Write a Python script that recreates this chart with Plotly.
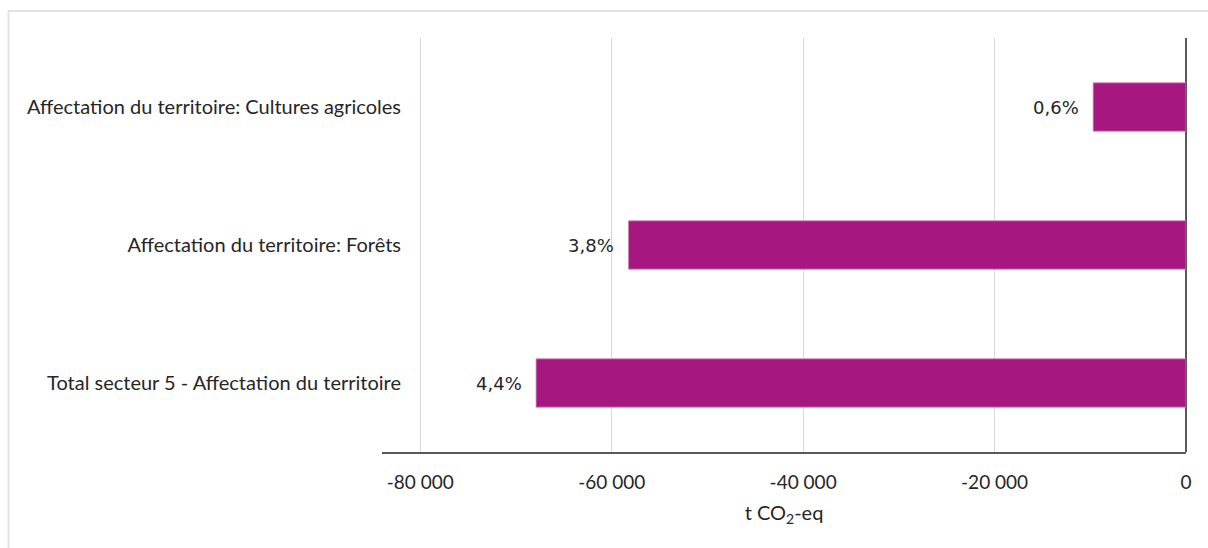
import plotly.graph_objects as go

categories = [
    "Affectation du territoire: Cultures agricoles",
    "Affectation du territoire: Forêts",
    "Total secteur 5 - Affectation du territoire",
]
values = [-9700, -58250, -67900]
pct_labels = ["0,6%", "3,8%", "4,4%"]
tick_vals = [-80000, -60000, -40000, -20000, 0]
tick_text = ["-80 000", "-60 000", "-40 000", "-20 000", "0"]

BAR = "#A6177F"
TXT = "#262626"

fig = go.Figure()
fig.add_trace(go.Bar(
    y=categories,
    x=values,
    orientation="h",
    width=0.35,
    marker=dict(color=BAR, line=dict(color="#D57DBB", width=0.8)),
    hoverinfo="skip",
))

for c, v, t in zip(categories, values, pct_labels):
    fig.add_annotation(
        x=v, y=c, text=t, showarrow=False, xanchor="right", xshift=-12,
        font=dict(family="DejaVu Sans", size=18, color=TXT),
    )

# outer frame (top and left edges visible)
fig.add_shape(type="line", xref="paper", yref="paper",
              x0=-0.465, x1=1.1, y0=1.065, y1=1.065,
              line=dict(color="#E3E3E3", width=2))
fig.add_shape(type="line", xref="paper", yref="paper",
              x0=-0.4645, x1=-0.4645, y0=1.065, y1=-0.3,
              line=dict(color="#E3E3E3", width=2))

fig.update_layout(
    width=1208, height=548,
    margin=dict(l=382, r=22, t=38, b=96),
    paper_bgcolor="white", plot_bgcolor="white",
    showlegend=False,
    separators=", ",
    font=dict(family="Lato", size=19, color=TXT),
    xaxis=dict(
        range=[-84000, 0],
        tickvals=tick_vals, ticktext=tick_text,
        showgrid=True, gridcolor="#D9D9D9", gridwidth=1,
        zeroline=True, zerolinecolor="#595959", zerolinewidth=1.5,
        showline=True, linecolor="#595959", linewidth=1.5,
        ticks="", ticklabelstandoff=12,
        tickfont=dict(family="Lato", size=19, color=TXT),
        title=dict(text="t CO<sub>2</sub>-eq", standoff=14,
                   font=dict(family="Lato", size=20, color=TXT)),
        fixedrange=True,
    ),
    yaxis=dict(
        categoryorder="array", categoryarray=categories,
        autorange="reversed",
        showgrid=False, showline=False, zeroline=False,
        ticks="", ticklabelstandoff=-20,
        tickfont=dict(family="Lato", size=20, color=TXT),
        fixedrange=True,
    ),
)

fig.write_html("out.html")
